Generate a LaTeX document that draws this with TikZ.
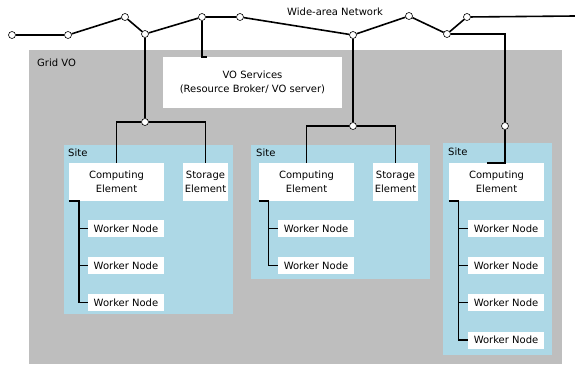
\documentclass[tikz,border=0pt]{standalone}
\usepackage{fontspec}
\setmainfont{DejaVu Sans}
\usetikzlibrary{calc}
\definecolor{vogray}{RGB}{190,190,190}
\definecolor{siteblue}{RGB}{173,216,230}

\tikzset{
  hub/.style={circle, draw, fill=white, line width=0.6pt, minimum size=7pt, inner sep=0pt,
    path picture={\fill (path picture bounding box.center) circle[radius=0.8pt];}},
  box/.style={fill=white, inner sep=0pt, align=center},
  celem/.style={box, minimum width=95pt, minimum height=38pt},
  selem/.style={box, minimum width=45pt, minimum height=38pt},
  worker/.style={box, minimum width=76pt, minimum height=17pt},
  wire/.style={line width=1.6pt},
}

\begin{document}
\begin{tikzpicture}[x=1pt, y=-1pt, font=\fontsize{10pt}{14.5pt}\selectfont]
  \useasboundingbox (0,0) rectangle (575,367);

  % grid VO and sites
  \fill[vogray] (29,50) rectangle (562,364);
  \fill[siteblue] (64,145) rectangle (233,314);
  \fill[siteblue] (251,145) rectangle (430,279);
  \fill[siteblue] (443,143) rectangle (552,355);
  \node[anchor=west, inner sep=0pt] (gridvo) at (37,63) {Grid VO};
  \node[anchor=west, inner sep=0pt] (site1) at (68,153) {Site};
  \node[anchor=west, inner sep=0pt] (site2) at (256,153) {Site};
  \node[anchor=west, inner sep=0pt] (site3) at (448,152) {Site};

  \node[box, minimum width=179pt, minimum height=51pt] (vo) at (252.5,82.5)
    {VO Services\\(Resource Broker/ VO server)};

  % wide-area network
  \node[hub] (n1) at (12,35) {};
  \node[hub] (n2) at (68,35) {};
  \node[hub] (n3) at (125,17) {};
  \node[hub] (n4) at (145,34) {};
  \node[hub] (n5) at (202,17) {};
  \node[hub] (n6) at (240,17) {};
  \node[hub] (n7) at (353,35) {};
  \node[hub] (n8) at (409,16) {};
  \node[hub] (n9) at (447,34) {};
  \node[hub] (n10) at (467,17) {};
  \coordinate (wanend) at (575,16);
  \node[anchor=west, inner sep=0pt] (wan) at (287,11.5) {Wide-area Network};

  \foreach \a/\b in {n1/n2, n2/n3, n3/n4, n4/n5, n5/n6, n6/n7, n7/n8, n8/n9, n9/n10}
    \draw[wire] (\a) -- (\b);
  \draw[wire] (n10) -- (wanend);

  % site 1
  \node[hub] (j1) at (145,122) {};
  \node[celem] (ce1) at (116.5,182) {Computing\\Element};
  \node[selem] (se1) at (205.5,182) {Storage\\Element};
  \node[worker] (w11) at (126,228.5) {Worker Node};
  \node[worker] (w12) at (126,265.5) {Worker Node};
  \node[worker] (w13) at (126,302.5) {Worker Node};

  % site 2
  \node[hub] (j2) at (353,126) {};
  \node[celem] (ce2) at (306.5,182) {Computing\\Element};
  \node[selem] (se2) at (395.5,182) {Storage\\Element};
  \node[worker] (w21) at (316,228.5) {Worker Node};
  \node[worker] (w22) at (316,265.5) {Worker Node};

  % site 3
  \node[hub] (j3) at (505,126) {};
  \node[celem] (ce3) at (496.5,182) {Computing\\Element};
  \node[worker] (w31) at (506,228.5) {Worker Node};
  \node[worker] (w32) at (506,265.5) {Worker Node};
  \node[worker] (w33) at (506,302.5) {Worker Node};
  \node[worker] (w34) at (506,340) {Worker Node};

  % uplinks
  \draw[wire] (n5) -- (n5 |- vo.north) -- ++(5,0);
  \draw[wire] (n4) -- (j1);
  \draw[wire] (ce1.north) |- (j1) -| (se1.north);
  \draw[wire] (n7) -- (j2);
  \draw[wire] (ce2.north) |- (j2) -| (se2.north);
  \draw[wire] (n9) -| (j3);
  \draw[wire] (j3) -- (j3 |- ce3.north) -- ++(-18,0);

  % worker trees
  \coordinate (t1) at ($(ce1.south west)+(10,0)$);
  \draw[wire] (ce1.south west) -- (t1) |- (w13.west);
  \foreach \w in {w11,w12} \draw[wire] (t1 |- \w.west) -- (\w.west);

  \coordinate (t2) at ($(ce2.south west)+(9.5,0)$);
  \draw[wire] (ce2.south west) -- (t2) |- (w22.west);
  \draw[wire] (t2 |- w21.west) -- (w21.west);

  \coordinate (t3) at ($(ce3.south west)+(9.5,0)$);
  \draw[wire] (ce3.south west) -- (t3) |- (w34.west);
  \foreach \w in {w31,w32,w33} \draw[wire] (t3 |- \w.west) -- (\w.west);
\end{tikzpicture}
\end{document}
